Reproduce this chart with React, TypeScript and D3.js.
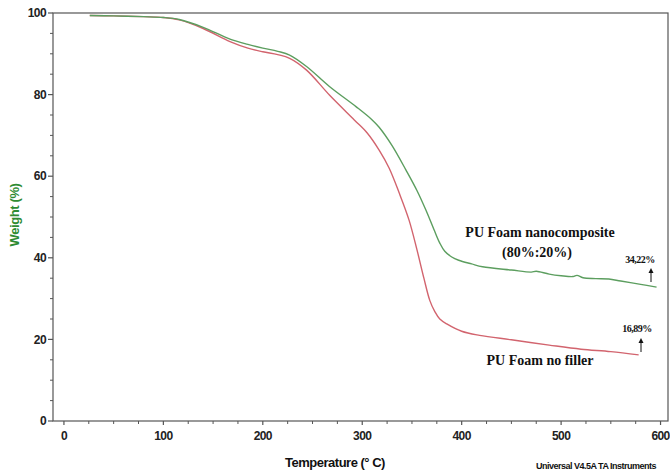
import React from "react";
import * as d3 from "d3";

const W = 670;
const H = 475;

// Temperature (°C) and weight (%)
const nanoTemp = [26, 50, 80, 100, 116, 140, 167, 185, 200, 215, 227, 244, 267, 294, 310, 317, 330, 344, 355, 364, 372, 378, 383, 390, 397, 410, 421, 450, 470, 475, 488, 500, 512, 516, 522, 535, 548, 560, 580, 596];
const nanoWeight = [99.4, 99.3, 99.1, 98.9, 98.4, 96.5, 93.6, 92.3, 91.4, 90.6, 89.7, 86.9, 82.0, 77.0, 73.8, 72.0, 67.5, 61.5, 56.5, 51.7, 47.0, 43.6, 41.6, 40.2, 39.4, 38.5, 37.8, 37.0, 36.5, 36.7, 36.0, 35.6, 35.4, 35.7, 35.1, 34.9, 34.8, 34.3, 33.5, 32.8];

const pureTemp = [26, 50, 80, 100, 116, 140, 167, 185, 200, 215, 227, 244, 267, 292, 305, 317, 327, 337, 347, 355, 362, 368, 373, 378, 385, 400, 418, 450, 488, 520, 550, 578];
const pureWeight = [99.4, 99.3, 99.1, 98.9, 98.3, 96.2, 93.0, 91.4, 90.5, 89.8, 88.9, 86.0, 79.9, 73.8, 70.6, 66.4, 62.0, 56.0, 49.3, 42.0, 35.0, 29.5, 26.8, 25.0, 23.8, 22.0, 21.0, 19.9, 18.6, 17.6, 17.0, 16.2];

const xTicks = [0, 100, 200, 300, 400, 500, 600];
const yTicks = [0, 20, 40, 60, 80, 100];

const GREEN = "#5c9e5f";
const RED = "#d2646e";
const AXIS = "#555";

export default function App() {
  const x = d3.scaleLinear().domain([-11, 607.5]).range([53, 668]);
  const y = d3.scaleLinear().domain([0, 100]).range([421, 13]);

  const line = d3
    .line<[number, number]>()
    .x((d) => x(d[0]))
    .y((d) => y(d[1]))
    .curve(d3.curveCatmullRom.alpha(0.5));

  const nano = nanoTemp.map((t, i) => [t, nanoWeight[i]] as [number, number]);
  const pure = pureTemp.map((t, i) => [t, pureWeight[i]] as [number, number]);

  const xMinor = d3.range(0, 601, 25).filter((v) => v % 100 !== 0);
  const yMinor = d3.range(0, 101, 5).filter((v) => v % 20 !== 0);

  const [x0, x1] = x.range();
  const [yb, yt] = y.range();

  return (
    <svg
      width={W}
      height={H}
      style={{ position: "absolute", left: 0, top: 0, background: "#fff" }}
      fontFamily="'Liberation Sans', Arial, sans-serif"
    >
      <rect x={0} y={0} width={W} height={H} fill="#fff" />
      {/* frame */}
      <rect x={x0} y={yt} width={x1 - x0} height={yb - yt} fill="none" stroke={AXIS} strokeWidth={1.2} />

      {/* y ticks */}
      {yTicks.map((v) => (
        <g key={"y" + v}>
          <line x1={x0 - 5} x2={x0} y1={y(v)} y2={y(v)} stroke={AXIS} strokeWidth={1.2} />
          <text x={46} y={y(v)} dy="0.35em" textAnchor="end" fontSize={12} fontWeight="bold" fill="#222" letterSpacing={-0.6}>
            {v}
          </text>
        </g>
      ))}
      {yMinor.map((v) => (
        <line key={"ym" + v} x1={x0 - 3} x2={x0} y1={y(v)} y2={y(v)} stroke={AXIS} strokeWidth={1} />
      ))}

      {/* x ticks */}
      {xTicks.map((v) => (
        <g key={"x" + v}>
          <line x1={x(v)} x2={x(v)} y1={yb} y2={yb + 4} stroke={AXIS} strokeWidth={1.2} />
          <text x={x(v)} y={440} textAnchor="middle" fontSize={12} fontWeight="bold" fill="#222" letterSpacing={-0.6}>
            {v}
          </text>
        </g>
      ))}
      {xMinor.map((v) => (
        <line key={"xm" + v} x1={x(v)} x2={x(v)} y1={yb} y2={yb + 3} stroke={AXIS} strokeWidth={1} />
      ))}

      {/* curves */}
      <path d={line(pure) || ""} fill="none" stroke={RED} strokeWidth={1.4} />
      <path d={line(nano) || ""} fill="none" stroke={GREEN} strokeWidth={1.4} />

      {/* axis titles */}
      <text x={335} y={467} textAnchor="middle" fontSize={13} fontWeight="bold" fill="#111" letterSpacing={-0.5}>
        Temperature (° C)
      </text>
      <text
        transform="translate(19,215) rotate(-90)"
        textAnchor="middle"
        fontSize={13}
        fontWeight="bold"
        fill="#2e8b32"
        letterSpacing={-0.4}
      >
        Weight (%)
      </text>
      <text x={596} y={469} textAnchor="middle" fontSize={9} fontWeight="bold" fill="#111" letterSpacing={-0.5}>
        Universal V4.5A TA Instruments
      </text>

      {/* annotations */}
      <g fontFamily="'Liberation Serif', 'Times New Roman', serif" fontWeight="bold" fill="#111">
        <text x={540} y={237} textAnchor="middle" fontSize={14}>
          PU Foam nanocomposite
        </text>
        <text x={537} y={257} textAnchor="middle" fontSize={14}>
          (80%:20%)
        </text>
        <text x={540} y={365} textAnchor="middle" fontSize={14}>
          PU Foam no filler
        </text>
        <text x={640} y={263} textAnchor="middle" fontSize={10} letterSpacing={-0.5}>
          34,22%
        </text>
        <text x={637} y={332} textAnchor="middle" fontSize={10} letterSpacing={-0.5}>
          16,89%
        </text>
      </g>
      {/* arrows */}
      <g stroke="#111" strokeWidth={1} fill="#111">
        <line x1={651} x2={651} y1={282} y2={271} />
        <path d="M648.5,273 L651,268 L653.5,273 Z" stroke="none" />
        <line x1={641} x2={641} y1={352} y2={341} />
        <path d="M638.5,343 L641,338 L643.5,343 Z" stroke="none" />
      </g>
    </svg>
  );
}
